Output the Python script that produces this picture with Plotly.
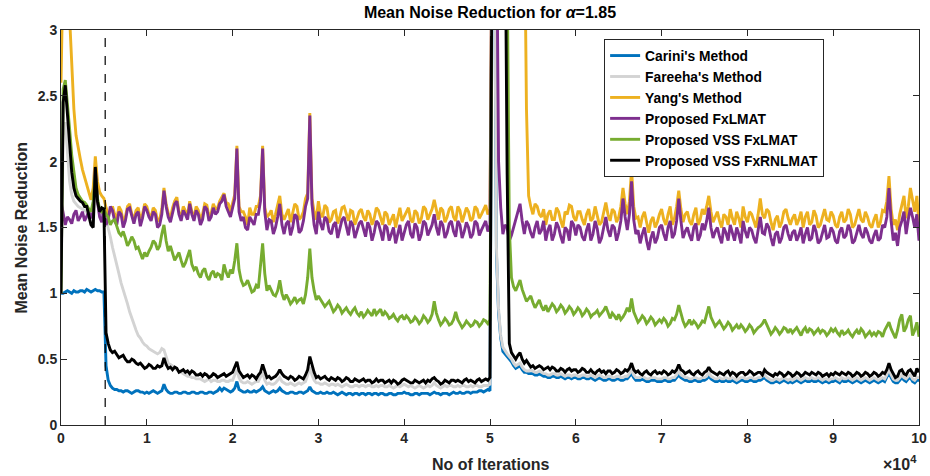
import plotly.graph_objects as go

STEP = 250  # iteration spacing of the merged samples

# Values read at iterations 0, 500, 1000, ... 100000 (201 values)
carini = [
1.00,1.01,1.01,1.02,1.01,1.02,1.03,1.01,1.03,1.02,
1.01,0.34,0.28,0.27,0.26,0.26,0.25,0.25,0.26,0.25,
0.25,0.25,0.25,0.25,0.31,0.25,0.24,0.25,0.24,0.25,
0.24,0.25,0.24,0.25,0.24,0.25,0.25,0.28,0.28,0.26,
0.26,0.33,0.26,0.25,0.25,0.26,0.26,0.29,0.25,0.25,
0.25,0.28,0.25,0.24,0.25,0.24,0.25,0.25,0.29,0.25,
0.24,0.24,0.25,0.24,0.24,0.24,0.24,0.24,0.23,0.24,
0.24,0.23,0.24,0.24,0.23,0.24,0.23,0.24,0.23,0.24,
0.25,0.24,0.23,0.24,0.24,0.24,0.23,0.25,0.24,0.24,
0.24,0.24,0.24,0.25,0.24,0.25,0.25,0.25,0.26,0.26,
0.26,4.00,0.85,0.56,0.52,0.48,0.43,0.45,0.40,0.39,
0.39,0.38,0.38,0.37,0.36,0.37,0.36,0.36,0.36,0.35,
0.36,0.35,0.36,0.35,0.35,0.35,0.35,0.34,0.35,0.34,
0.35,0.34,0.35,0.39,0.34,0.34,0.34,0.33,0.34,0.33,
0.33,0.34,0.33,0.34,0.38,0.35,0.34,0.33,0.34,0.33,
0.34,0.37,0.34,0.33,0.33,0.34,0.33,0.33,0.33,0.34,
0.33,0.34,0.33,0.34,0.36,0.33,0.32,0.33,0.33,0.33,
0.33,0.33,0.33,0.33,0.33,0.34,0.33,0.33,0.33,0.32,
0.33,0.33,0.34,0.33,0.33,0.33,0.33,0.33,0.33,0.33,
0.33,0.33,0.33,0.40,0.33,0.32,0.36,0.33,0.36,0.32,
0.34]
# Values read at iterations 250, 750, ... 99750 (200 values)
carini_mid = [
1.00,1.02,1.00,1.01,1.02,1.01,1.02,1.02,1.02,1.01,
0.45,0.30,0.27,0.26,0.25,0.26,0.24,0.26,0.25,0.24,
0.24,0.26,0.24,0.26,0.27,0.24,0.25,0.24,0.25,0.24,
0.25,0.24,0.25,0.24,0.25,0.24,0.26,0.26,0.27,0.25,
0.28,0.27,0.25,0.26,0.25,0.25,0.27,0.26,0.24,0.26,
0.26,0.26,0.24,0.25,0.24,0.25,0.24,0.26,0.26,0.24,
0.25,0.24,0.24,0.25,0.23,0.25,0.23,0.24,0.24,0.23,
0.24,0.24,0.23,0.24,0.24,0.23,0.24,0.23,0.24,0.24,
0.24,0.23,0.24,0.23,0.24,0.24,0.24,0.24,0.23,0.24,
0.23,0.25,0.24,0.24,0.25,0.24,0.25,0.26,0.25,0.27,
4.00,1.30,0.66,0.54,0.50,0.45,0.44,0.42,0.40,0.39,
0.38,0.39,0.37,0.36,0.37,0.36,0.37,0.35,0.36,0.36,
0.35,0.36,0.35,0.36,0.34,0.36,0.34,0.35,0.34,0.35,
0.34,0.35,0.37,0.36,0.34,0.35,0.33,0.34,0.34,0.33,
0.34,0.33,0.34,0.36,0.36,0.34,0.33,0.34,0.33,0.34,
0.35,0.35,0.33,0.34,0.33,0.33,0.34,0.32,0.34,0.33,
0.34,0.33,0.34,0.35,0.34,0.32,0.33,0.32,0.34,0.32,
0.32,0.34,0.32,0.34,0.33,0.33,0.34,0.32,0.33,0.33,
0.34,0.32,0.33,0.34,0.32,0.34,0.32,0.34,0.32,0.34,
0.32,0.34,0.36,0.36,0.32,0.34,0.34,0.35,0.33,0.34]

fareeha = [
1.00,2.30,1.85,1.70,1.66,1.64,1.62,1.52,1.90,1.60,
1.62,1.50,1.35,1.22,1.08,0.98,0.86,0.76,0.68,0.63,
0.60,0.57,0.55,0.55,0.57,0.47,0.45,0.42,0.40,0.38,
0.37,0.36,0.35,0.34,0.34,0.33,0.34,0.33,0.34,0.33,
0.34,0.42,0.33,0.32,0.32,0.32,0.33,0.40,0.31,0.31,
0.32,0.36,0.32,0.31,0.31,0.31,0.31,0.33,0.44,0.34,
0.32,0.31,0.31,0.31,0.30,0.30,0.30,0.30,0.29,0.30,
0.30,0.29,0.30,0.29,0.29,0.30,0.29,0.29,0.29,0.29,
0.31,0.29,0.29,0.29,0.29,0.29,0.29,0.32,0.29,0.29,
0.29,0.30,0.29,0.29,0.30,0.29,0.29,0.30,0.29,0.30,
0.31,4.00,0.88,0.59,0.54,0.50,0.45,0.47,0.42,0.41,
0.41,0.40,0.40,0.39,0.38,0.39,0.38,0.38,0.38,0.37,
0.38,0.37,0.38,0.37,0.37,0.37,0.37,0.36,0.37,0.36,
0.37,0.36,0.37,0.42,0.36,0.36,0.36,0.35,0.36,0.35,
0.35,0.36,0.35,0.36,0.41,0.37,0.36,0.35,0.36,0.35,
0.36,0.40,0.36,0.35,0.35,0.36,0.35,0.35,0.35,0.36,
0.35,0.36,0.35,0.36,0.38,0.35,0.34,0.35,0.35,0.35,
0.35,0.35,0.35,0.35,0.35,0.36,0.35,0.35,0.35,0.34,
0.35,0.35,0.36,0.35,0.35,0.35,0.35,0.35,0.35,0.35,
0.35,0.35,0.35,0.43,0.35,0.34,0.38,0.35,0.38,0.34,
0.36]
fareeha_mid = [
2.20,2.05,1.75,1.68,1.65,1.63,1.57,1.50,1.68,1.61,
1.56,1.43,1.29,1.15,1.03,0.92,0.81,0.72,0.66,0.61,
0.58,0.56,0.54,0.58,0.52,0.46,0.43,0.41,0.39,0.37,
0.36,0.35,0.35,0.33,0.35,0.34,0.33,0.34,0.33,0.34,
0.38,0.36,0.32,0.33,0.31,0.33,0.36,0.34,0.32,0.31,
0.34,0.33,0.31,0.32,0.30,0.32,0.32,0.38,0.38,0.32,
0.31,0.32,0.30,0.31,0.31,0.29,0.31,0.29,0.30,0.29,
0.30,0.30,0.29,0.30,0.30,0.29,0.30,0.28,0.30,0.30,
0.30,0.30,0.28,0.30,0.28,0.30,0.30,0.30,0.28,0.30,
0.30,0.29,0.30,0.30,0.29,0.30,0.30,0.29,0.30,0.30,
4.00,1.35,0.68,0.56,0.52,0.47,0.46,0.44,0.41,0.42,
0.40,0.41,0.39,0.38,0.39,0.38,0.39,0.37,0.38,0.38,
0.37,0.38,0.37,0.38,0.36,0.38,0.36,0.37,0.36,0.37,
0.36,0.37,0.39,0.38,0.36,0.37,0.35,0.36,0.36,0.35,
0.36,0.35,0.36,0.38,0.38,0.36,0.35,0.36,0.35,0.36,
0.37,0.37,0.35,0.36,0.35,0.35,0.36,0.34,0.36,0.35,
0.36,0.35,0.36,0.37,0.36,0.34,0.35,0.34,0.36,0.34,
0.34,0.36,0.34,0.36,0.35,0.35,0.36,0.34,0.35,0.35,
0.36,0.34,0.35,0.36,0.34,0.36,0.34,0.36,0.34,0.36,
0.34,0.36,0.38,0.38,0.34,0.36,0.36,0.37,0.35,0.36]

yang = [
2.60,3.50,3.10,2.40,2.10,1.94,1.83,1.71,2.04,1.77,
1.72,1.60,1.66,1.56,1.63,1.58,1.68,1.57,1.65,1.60,
1.66,1.58,1.63,1.56,1.80,1.61,1.65,1.73,1.58,1.63,
1.70,1.58,1.63,1.60,1.67,1.61,1.64,1.70,1.76,1.68,
1.68,2.12,1.62,1.58,1.65,1.60,1.66,2.12,1.58,1.63,
1.60,1.74,1.56,1.64,1.60,1.66,1.58,1.72,2.37,1.62,
1.70,1.58,1.65,1.56,1.63,1.58,1.66,1.55,1.62,1.57,
1.64,1.55,1.60,1.57,1.63,1.52,1.60,1.56,1.50,1.65,
1.58,1.65,1.54,1.61,1.57,1.64,1.60,1.71,1.56,1.63,
1.58,1.66,1.55,1.63,1.59,1.62,1.57,1.64,1.60,1.67,
1.64,4.00,4.00,4.00,4.00,4.00,4.00,4.00,4.00,1.74,
1.60,1.66,1.58,1.52,1.63,1.56,1.62,1.50,1.60,1.66,
1.55,1.62,1.52,1.64,1.57,1.60,1.54,1.69,1.55,1.62,
1.58,1.80,1.60,1.94,1.57,1.50,1.62,1.46,1.58,1.54,
1.64,1.52,1.66,1.57,1.78,1.54,1.62,1.52,1.65,1.56,
1.60,1.74,1.54,1.62,1.50,1.58,1.64,1.52,1.57,1.66,
1.54,1.60,1.50,1.72,1.57,1.62,1.48,1.59,1.54,1.64,
1.52,1.60,1.56,1.50,1.62,1.54,1.59,1.52,1.64,1.55,
1.59,1.50,1.62,1.56,1.60,1.52,1.64,1.54,1.58,1.50,
1.60,1.54,1.62,1.89,1.52,1.48,1.68,1.57,1.80,1.62,
1.52]
yang_mid = [
3.50,3.50,2.70,2.20,2.02,1.88,1.76,1.80,1.85,1.74,
1.65,1.62,1.60,1.66,1.55,1.66,1.60,1.63,1.56,1.68,
1.60,1.65,1.55,1.64,1.68,1.57,1.70,1.62,1.66,1.59,
1.62,1.66,1.56,1.68,1.58,1.68,1.65,1.73,1.69,1.62,
1.75,1.66,1.62,1.52,1.60,1.66,1.74,1.65,1.60,1.54,
1.66,1.60,1.60,1.54,1.68,1.56,1.62,1.76,1.72,1.56,
1.60,1.67,1.54,1.62,1.53,1.65,1.60,1.63,1.52,1.62,
1.58,1.63,1.52,1.65,1.58,1.62,1.52,1.60,1.58,1.55,
1.62,1.56,1.63,1.53,1.66,1.56,1.64,1.62,1.65,1.54,
1.64,1.58,1.66,1.54,1.65,1.55,1.66,1.57,1.64,1.60,
4.00,4.00,4.00,4.00,4.00,4.00,4.00,4.00,2.40,1.66,
1.68,1.60,1.64,1.60,1.56,1.65,1.55,1.62,1.67,1.58,
1.62,1.56,1.60,1.55,1.66,1.52,1.63,1.60,1.64,1.54,
1.66,1.68,1.70,1.66,1.58,1.58,1.54,1.55,1.50,1.60,
1.56,1.60,1.52,1.66,1.64,1.60,1.55,1.60,1.52,1.64,
1.66,1.62,1.58,1.55,1.60,1.52,1.57,1.62,1.50,1.58,
1.62,1.55,1.60,1.60,1.64,1.54,1.56,1.50,1.62,1.57,
1.57,1.52,1.62,1.58,1.52,1.63,1.50,1.58,1.56,1.62,
1.52,1.58,1.54,1.64,1.50,1.58,1.56,1.62,1.52,1.56,
1.50,1.63,1.70,1.64,1.56,1.60,1.74,1.66,1.70,1.74]

fxlmat = [
1.70,1.52,1.56,1.60,1.55,1.62,1.58,1.57,1.95,1.58,
1.65,1.56,1.63,1.52,1.60,1.55,1.65,1.53,1.62,1.57,
1.63,1.55,1.60,1.52,1.78,1.58,1.62,1.70,1.55,1.60,
1.68,1.55,1.60,1.56,1.64,1.58,1.60,1.68,1.75,1.62,
1.65,2.10,1.55,1.50,1.58,1.52,1.60,2.10,1.48,1.55,
1.50,1.68,1.45,1.55,1.50,1.58,1.48,1.66,2.35,1.52,
1.62,1.48,1.56,1.45,1.54,1.48,1.58,1.44,1.52,1.47,
1.55,1.43,1.50,1.46,1.53,1.40,1.50,1.45,1.38,1.52,
1.47,1.55,1.42,1.50,1.45,1.53,1.48,1.60,1.44,1.52,
1.46,1.55,1.43,1.52,1.47,1.50,1.45,1.53,1.48,1.55,
1.52,4.00,2.00,1.45,1.50,1.44,1.55,1.68,1.45,1.52,
1.42,1.55,1.48,1.40,1.52,1.45,1.50,1.38,1.48,1.55,
1.44,1.50,1.40,1.53,1.45,1.49,1.42,1.58,1.43,1.50,
1.46,1.72,1.48,1.85,1.45,1.38,1.50,1.33,1.47,1.42,
1.52,1.40,1.55,1.45,1.72,1.42,1.50,1.40,1.53,1.44,
1.48,1.65,1.42,1.50,1.38,1.46,1.52,1.40,1.45,1.55,
1.42,1.48,1.38,1.58,1.45,1.50,1.36,1.47,1.42,1.52,
1.40,1.48,1.44,1.38,1.50,1.42,1.47,1.40,1.52,1.43,
1.47,1.38,1.50,1.44,1.48,1.40,1.52,1.42,1.46,1.38,
1.48,1.42,1.50,1.80,1.40,1.36,1.55,1.45,1.65,1.50,
1.40]
fxlmat_mid = [
1.60,1.58,1.53,1.63,1.58,1.55,1.62,1.62,1.70,1.54,
1.52,1.66,1.55,1.62,1.50,1.64,1.58,1.60,1.51,1.66,
1.58,1.62,1.50,1.60,1.66,1.54,1.68,1.60,1.63,1.56,
1.60,1.63,1.52,1.66,1.55,1.65,1.62,1.70,1.66,1.58,
1.72,1.62,1.58,1.48,1.55,1.60,1.70,1.62,1.56,1.45,
1.58,1.52,1.53,1.44,1.60,1.46,1.55,1.72,1.68,1.45,
1.53,1.58,1.47,1.52,1.42,1.56,1.50,1.55,1.42,1.53,
1.48,1.54,1.40,1.55,1.47,1.52,1.40,1.50,1.46,1.40,
1.52,1.45,1.53,1.40,1.55,1.44,1.52,1.50,1.55,1.42,
1.53,1.47,1.55,1.42,1.54,1.42,1.55,1.44,1.52,1.47,
4.00,4.00,1.65,1.52,1.40,1.50,1.62,1.55,1.55,1.46,
1.50,1.45,1.55,1.48,1.40,1.54,1.43,1.50,1.40,1.52,
1.52,1.43,1.48,1.40,1.55,1.38,1.50,1.48,1.52,1.40,
1.55,1.58,1.60,1.56,1.48,1.45,1.40,1.42,1.38,1.50,
1.45,1.50,1.42,1.55,1.55,1.47,1.44,1.50,1.40,1.53,
1.55,1.50,1.47,1.43,1.50,1.40,1.46,1.50,1.38,1.47,
1.50,1.42,1.48,1.46,1.53,1.42,1.45,1.38,1.50,1.45,
1.46,1.40,1.50,1.45,1.40,1.52,1.38,1.46,1.42,1.50,
1.40,1.47,1.42,1.52,1.38,1.46,1.45,1.50,1.40,1.44,
1.40,1.52,1.58,1.55,1.46,1.50,1.62,1.56,1.58,1.60]

vss_fxlmat = [
1.00,2.62,2.25,1.90,1.75,1.70,1.67,1.62,1.90,1.64,
1.64,1.58,1.55,1.50,1.44,1.42,1.39,1.40,1.35,1.26,
1.28,1.35,1.38,1.36,1.52,1.32,1.30,1.28,1.25,1.23,
1.33,1.18,1.15,1.17,1.13,1.15,1.12,1.14,1.22,1.12,
1.15,1.38,1.10,1.07,1.05,1.02,1.04,1.38,1.02,1.03,
0.98,1.10,0.95,0.96,0.94,0.93,0.96,0.99,1.34,1.02,
0.98,0.93,0.92,0.90,0.88,0.89,0.87,0.86,0.87,0.85,
0.86,0.84,0.85,0.88,0.86,0.83,0.84,0.82,0.81,0.82,
0.80,0.81,0.79,0.80,0.79,0.81,0.80,0.94,0.80,0.78,
0.79,0.77,0.86,0.77,0.76,0.77,0.76,0.78,0.77,0.79,
0.80,4.00,4.00,4.00,3.50,1.12,1.02,1.10,0.98,0.96,
0.93,0.92,0.90,0.91,0.89,0.90,0.88,0.89,0.87,0.88,
0.86,0.87,0.85,0.86,0.84,0.87,0.85,0.90,0.81,0.83,
0.84,0.82,0.89,0.96,0.82,0.80,0.81,0.79,0.80,0.78,
0.78,0.79,0.77,0.80,0.91,0.79,0.77,0.76,0.77,0.76,
0.78,0.90,0.79,0.77,0.76,0.75,0.76,0.74,0.73,0.74,
0.73,0.74,0.72,0.75,0.80,0.73,0.71,0.72,0.71,0.73,
0.73,0.72,0.71,0.72,0.70,0.72,0.71,0.70,0.71,0.70,
0.71,0.70,0.72,0.70,0.69,0.70,0.69,0.71,0.69,0.68,
0.68,0.70,0.72,0.78,0.70,0.72,0.84,0.74,0.83,0.72,
0.67]
vss_fxlmat_mid = [
2.55,2.45,2.05,1.80,1.72,1.69,1.64,1.70,1.72,1.62,
1.60,1.52,1.56,1.46,1.47,1.36,1.43,1.34,1.30,1.31,
1.32,1.40,1.33,1.45,1.40,1.36,1.25,1.31,1.20,1.28,
1.22,1.20,1.12,1.19,1.10,1.17,1.15,1.10,1.16,1.18,
1.25,1.18,1.06,1.10,1.01,1.06,1.20,1.15,1.06,0.99,
1.02,1.00,0.99,0.92,0.97,0.95,0.92,1.12,1.12,0.95,
0.95,0.90,0.94,0.86,0.91,0.85,0.89,0.84,0.89,0.83,
0.82,0.87,0.83,0.84,0.88,0.86,0.81,0.84,0.79,0.83,
0.83,0.78,0.82,0.77,0.83,0.78,0.84,0.85,0.76,0.81,
0.76,0.80,0.80,0.74,0.79,0.75,0.79,0.75,0.80,0.77,
4.00,4.00,4.00,4.00,1.50,1.05,1.06,1.03,0.94,0.98,
0.89,0.95,0.87,0.86,0.92,0.86,0.91,0.85,0.90,0.84,
0.89,0.83,0.88,0.82,0.85,0.83,0.87,0.85,0.85,0.80,
0.80,0.85,0.86,0.86,0.78,0.83,0.77,0.82,0.76,0.80,
0.81,0.75,0.81,0.84,0.84,0.75,0.80,0.79,0.74,0.79,
0.84,0.82,0.75,0.79,0.73,0.78,0.72,0.76,0.76,0.71,
0.76,0.70,0.74,0.77,0.76,0.69,0.74,0.69,0.74,0.70,
0.70,0.74,0.68,0.74,0.73,0.69,0.73,0.72,0.68,0.73,
0.73,0.68,0.69,0.72,0.67,0.72,0.73,0.67,0.71,0.70,
0.71,0.67,0.75,0.73,0.66,0.80,0.71,0.80,0.68,0.78]

vss_fxrnlmat = [
1.00,2.58,2.10,1.80,1.72,1.69,1.66,1.52,1.96,1.62,
1.64,0.62,0.55,0.53,0.52,0.50,0.48,0.49,0.46,0.45,
0.44,0.45,0.43,0.44,0.51,0.43,0.42,0.43,0.41,0.40,
0.39,0.40,0.38,0.37,0.38,0.37,0.38,0.37,0.39,0.38,
0.40,0.48,0.38,0.37,0.36,0.37,0.38,0.46,0.36,0.35,
0.37,0.42,0.37,0.35,0.36,0.35,0.36,0.38,0.52,0.40,
0.37,0.36,0.35,0.36,0.34,0.35,0.34,0.35,0.33,0.34,
0.34,0.33,0.34,0.33,0.33,0.34,0.33,0.32,0.33,0.32,
0.35,0.33,0.32,0.33,0.33,0.32,0.33,0.36,0.33,0.32,
0.33,0.34,0.33,0.33,0.34,0.33,0.33,0.34,0.33,0.35,
0.36,4.00,4.00,4.00,1.90,0.55,0.50,0.55,0.47,0.46,
0.45,0.44,0.44,0.43,0.42,0.43,0.41,0.42,0.42,0.41,
0.42,0.41,0.42,0.40,0.40,0.41,0.40,0.39,0.41,0.40,
0.41,0.40,0.41,0.47,0.40,0.39,0.40,0.39,0.40,0.39,
0.39,0.40,0.39,0.40,0.46,0.41,0.40,0.39,0.40,0.39,
0.40,0.44,0.40,0.38,0.39,0.40,0.38,0.39,0.39,0.40,
0.39,0.40,0.39,0.40,0.42,0.39,0.37,0.38,0.39,0.38,
0.39,0.38,0.39,0.38,0.39,0.40,0.38,0.39,0.38,0.37,
0.38,0.39,0.40,0.38,0.39,0.38,0.39,0.38,0.39,0.38,
0.39,0.38,0.39,0.47,0.39,0.37,0.42,0.38,0.42,0.37,
0.40]
vss_fxrnlmat_mid = [
2.45,2.35,1.92,1.74,1.70,1.66,1.60,1.50,1.70,1.65,
0.70,0.57,0.56,0.51,0.53,0.48,0.50,0.47,0.47,0.43,
0.46,0.43,0.45,0.45,0.46,0.44,0.44,0.40,0.42,0.41,
0.41,0.38,0.39,0.39,0.36,0.39,0.36,0.38,0.37,0.39,
0.44,0.41,0.36,0.38,0.38,0.35,0.40,0.40,0.37,0.36,
0.39,0.39,0.36,0.37,0.34,0.37,0.35,0.42,0.45,0.36,
0.35,0.37,0.34,0.35,0.36,0.33,0.36,0.33,0.35,0.33,
0.35,0.34,0.32,0.35,0.34,0.32,0.34,0.34,0.31,0.34,
0.34,0.32,0.34,0.32,0.34,0.34,0.35,0.34,0.31,0.34,
0.32,0.34,0.34,0.32,0.35,0.34,0.32,0.35,0.34,0.34,
4.00,4.00,4.00,4.00,0.62,0.52,0.53,0.50,0.49,0.44,
0.43,0.45,0.42,0.44,0.44,0.41,0.43,0.40,0.43,0.42,
0.40,0.43,0.40,0.42,0.39,0.42,0.41,0.41,0.39,0.42,
0.39,0.42,0.43,0.42,0.41,0.38,0.41,0.38,0.41,0.40,
0.41,0.38,0.41,0.42,0.42,0.39,0.41,0.38,0.41,0.38,
0.41,0.41,0.39,0.40,0.38,0.41,0.40,0.37,0.40,0.38,
0.41,0.38,0.40,0.38,0.40,0.38,0.39,0.40,0.37,0.40,
0.37,0.40,0.37,0.40,0.38,0.39,0.40,0.37,0.39,0.39,
0.40,0.38,0.39,0.40,0.37,0.40,0.37,0.40,0.37,0.40,
0.37,0.40,0.42,0.42,0.36,0.41,0.39,0.41,0.39,0.43]

series_names = ["Carini's Method", "Fareeha's Method", "Yang's Method",
                "Proposed FxLMAT", "Proposed VSS FxLMAT", "Proposed VSS FxRNLMAT"]
series_main = [carini, fareeha, yang, fxlmat, vss_fxlmat, vss_fxrnlmat]
series_mid = [carini_mid, fareeha_mid, yang_mid, fxlmat_mid, vss_fxlmat_mid, vss_fxrnlmat_mid]
series_colors = ["#0072BD", "#D3D3D3", "#EDB120", "#7E2F8E", "#77AC30", "#000000"]

switch_iter = 5150
x_tick_vals = [0, 10000, 20000, 30000, 40000, 50000, 60000, 70000, 80000, 90000, 100000]
x_tick_text = ["0", "1", "2", "3", "4", "5", "6", "7", "8", "9", "10"]
y_tick_vals = [0, 0.5, 1, 1.5, 2, 2.5, 3]
y_tick_text = ["0", "0.5", "1", "1.5", "2", "2.5", "3"]


def merge(main, mid):
    assert len(main) == 201 and len(mid) == 200, (len(main), len(mid))
    out = []
    for a, b in zip(main[:-1], mid):
        out.append(a)
        out.append(b)
    out.append(main[-1])
    return out


fig = go.Figure()
for name, main, mid, col in zip(series_names, series_main, series_mid, series_colors):
    vals = merge(main, mid)
    xs = [i * STEP for i in range(len(vals))]
    fig.add_trace(go.Scatter(x=xs, y=vals, mode="lines", name=name,
                             line=dict(color=col, width=2.9)))

fig.add_shape(type="line", x0=switch_iter, x1=switch_iter, y0=0, y1=3,
              xref="x", yref="y", line=dict(color="#000000", width=1.2, dash="dash"))

axis_col = "#262626"
font_family = "Liberation Sans, Arial, Helvetica, sans-serif"

fig.update_layout(
    width=930, height=476,
    margin=dict(l=61, r=11, t=30, b=51, autoexpand=False),
    paper_bgcolor="white", plot_bgcolor="white",
    font=dict(family=font_family, color=axis_col, size=14),
    title=dict(text="<b>Mean Noise Reduction for <i>α</i>=1.85</b>",
               xref="paper", x=0.5, xanchor="center", y=1 - 12 / 476, yanchor="middle",
               font=dict(size=16, color="#000000")),
    showlegend=True,
    legend=dict(x=0.633, y=0.977, xanchor="left", yanchor="top",
                bgcolor="white", bordercolor=axis_col, borderwidth=1,
                font=dict(size=13.8, color="#000000", weight="bold"),
                tracegroupgap=0, itemwidth=30),
)

fig.update_xaxes(range=[0, 100000], tickvals=x_tick_vals, ticktext=x_tick_text,
                 ticks="inside", ticklen=6, tickcolor=axis_col, tickwidth=1,
                 showline=True, linecolor=axis_col, linewidth=1, mirror="ticks",
                 showgrid=False, zeroline=False, automargin=False,
                 tickfont=dict(size=14, color=axis_col, weight="bold"))
fig.update_yaxes(range=[0, 3], tickvals=y_tick_vals, ticktext=y_tick_text,
                 ticks="inside", ticklen=6, tickcolor=axis_col, tickwidth=1,
                 showline=True, linecolor=axis_col, linewidth=1, mirror="ticks",
                 showgrid=False, zeroline=False, automargin=False,
                 tickfont=dict(size=14, color=axis_col, weight="bold"))

fig.add_annotation(text="<b>No of Iterations</b>", xref="paper", yref="paper",
                   x=0.5, y=(425 - 464) / 395, xanchor="center", yanchor="middle",
                   showarrow=False, font=dict(size=16, color=axis_col))
fig.add_annotation(text="<b>Mean Noise Reduction</b>", xref="paper", yref="paper",
                   x=(21 - 61) / 858, y=0.5, xanchor="center", yanchor="middle",
                   textangle=-90, showarrow=False, font=dict(size=16, color=axis_col))
fig.add_annotation(text="<b>×10<sup>4</sup></b>", xref="paper", yref="paper",
                   x=1.0, y=(425 - 463) / 395, xanchor="right", yanchor="middle",
                   showarrow=False, font=dict(size=16, color=axis_col))

fig.write_html("out.html", config={"displayModeBar": False},
               post_script="document.body.style.margin='0px';document.body.style.overflow='hidden';")
